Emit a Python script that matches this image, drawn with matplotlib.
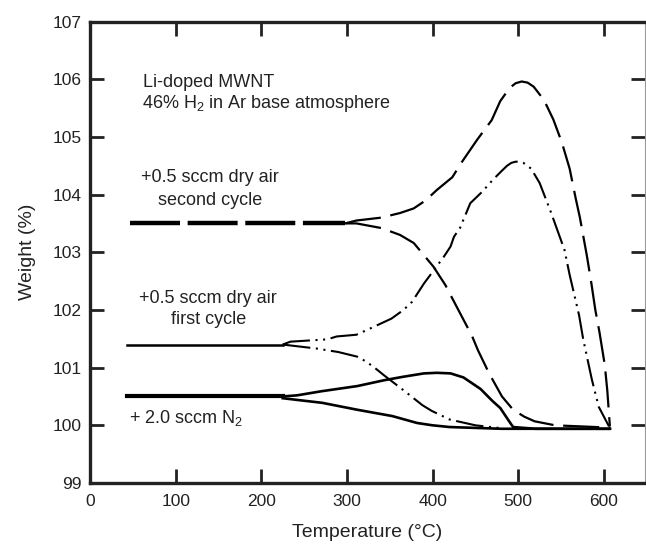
import matplotlib
matplotlib.use("Agg")
import matplotlib.pyplot as plt

plt.rcParams['font.family'] = ['Liberation Sans', 'DejaVu Sans']
plt.rcParams['mathtext.fontset'] = 'custom'
plt.rcParams['mathtext.rm'] = 'Liberation Sans'
plt.rcParams['mathtext.it'] = 'Liberation Sans:italic'
plt.rcParams['lines.scale_dashes'] = False

# ---- data (Temperature in °C, Weight in %) ----
# second cycle (+0.5 sccm dry air)
second_flat_t = [47, 298]
second_flat_w = [103.5, 103.5]
second_up_t = [298, 311, 340, 362, 378, 392, 405, 423, 434, 452, 469, 479, 490, 497, 504, 511,
               518, 530, 541, 551, 560, 567, 572, 580, 585, 590, 595, 601, 604, 607]
second_up_w = [103.5, 103.55, 103.6, 103.68, 103.76, 103.9, 104.08, 104.3, 104.56, 104.95,
               105.29, 105.62, 105.85, 105.93, 105.96, 105.94, 105.87, 105.64, 105.3, 104.9,
               104.45, 103.94, 103.6, 102.95, 102.5, 102.0, 101.6, 101.05, 100.6, 99.98]
second_down_t = [298, 311, 340, 362, 378, 401, 415, 423, 446, 453, 466, 481, 494, 507, 519,
                 543, 607]
second_down_w = [103.5, 103.5, 103.42, 103.3, 103.16, 102.75, 102.43, 102.2, 101.55, 101.3,
                 100.9, 100.5, 100.27, 100.15, 100.07, 100.0, 99.96]

# first cycle (+0.5 sccm dry air)
first_flat_t = [43, 225]
first_flat_w = [101.4, 101.4]
first_up_t = [225, 234, 277, 288, 311, 323, 352, 366, 376, 390, 413, 421, 425, 432, 444,
              458, 470, 480, 487, 492, 497, 502, 506, 515, 525, 538, 554, 560, 571, 576,
              586, 594, 606]
first_up_w = [101.4, 101.45, 101.49, 101.54, 101.57, 101.65, 101.85, 102.0, 102.14, 102.46,
              102.92, 103.1, 103.27, 103.42, 103.85, 104.05, 104.25, 104.4, 104.5, 104.55,
              104.57, 104.57, 104.55, 104.45, 104.2, 103.7, 103.04, 102.61, 101.91, 101.48,
              100.79, 100.32, 99.98]
first_down_t = [225, 265, 290, 312, 323, 333, 343, 365, 388, 399, 420, 450, 480]
first_down_w = [101.4, 101.33, 101.27, 101.19, 101.1, 100.99, 100.87, 100.62, 100.35, 100.25,
                100.1, 100.0, 99.95]

# + 2.0 sccm N2
n2_flat_t = [43, 225]
n2_flat_w = [100.5, 100.5]
n2_up_t = [225, 242, 270, 312, 343, 365, 390, 405, 421, 436, 456, 470, 479, 488, 494, 520, 607]
n2_up_w = [100.5, 100.52, 100.59, 100.68, 100.78, 100.84, 100.9, 100.91, 100.9, 100.83,
           100.63, 100.42, 100.3, 100.1, 99.97, 99.94, 99.94]
n2_down_t = [225, 242, 271, 312, 353, 382, 400, 420, 480, 607]
n2_down_w = [100.47, 100.44, 100.39, 100.27, 100.16, 100.04, 100.0, 99.97, 99.94, 99.94]

x_ticks = [0, 100, 200, 300, 400, 500, 600]
y_ticks = [99, 100, 101, 102, 103, 104, 105, 106, 107]

W, H = 646, 551
fig = plt.figure(figsize=(W / 100, H / 100), dpi=100)
ax = fig.add_axes([90 / W, 68 / H, 555 / W, 461.5 / H])

k = 'black'
ax.plot(second_flat_t, second_flat_w, color=k, lw=3.2, dashes=(36, 5.5), solid_capstyle='butt')
ax.plot(second_up_t, second_up_w, color=k, lw=1.6, dashes=(26, 7))
ax.plot(second_down_t, second_down_w, color=k, lw=1.6, dashes=(26, 7))

ax.plot(first_flat_t, first_flat_w, color=k, lw=1.8)
ax.plot(first_up_t, first_up_w, color=k, lw=1.5, dashes=(20, 4, 1.5, 4, 1.5, 4))
ax.plot(first_down_t, first_down_w, color=k, lw=1.5, dashes=(20, 4, 1.5, 4, 1.5, 4))

ax.plot(n2_flat_t, n2_flat_w, color=k, lw=3.0)
ax.plot(n2_up_t, n2_up_w, color=k, lw=1.9)
ax.plot(n2_down_t, n2_down_w, color=k, lw=1.9)

ax.set_xlim(0, 648)
ax.set_ylim(99, 107)
ax.set_xticks(x_ticks)
ax.set_yticks(y_ticks)
ax.tick_params(direction='in', length=10, width=2.0, labelsize=12.5,
               top=True, right=True, pad=6, colors='#222222')
ax.tick_params(axis='x', pad=8)
for s in ['left', 'bottom', 'top']:
    ax.spines[s].set_linewidth(2.4)
    ax.spines[s].set_color('#222222')
ax.spines['right'].set_linewidth(0.8)
ax.spines['right'].set_color('#999999')

ax.set_xlabel('Temperature (°C)', fontsize=14, labelpad=11, color='#222222')
ax.set_ylabel('Weight (%)', fontsize=14, labelpad=12, color='#222222')

fs = 13
tc = '#222222'
ax.text(62, 105.95, 'Li-doped MWNT', fontsize=fs, va='center', ha='left', color=tc)
ax.text(61, 105.58, r'46% H$_\mathregular{2}$ in Ar base atmosphere', fontsize=fs,
        va='center', ha='left', color=tc)
ax.text(140, 104.3, '+0.5 sccm dry air', fontsize=fs, va='center', ha='center', color=tc)
ax.text(140, 103.9, 'second cycle', fontsize=fs, va='center', ha='center', color=tc)
ax.text(138, 102.2, '+0.5 sccm dry air', fontsize=fs, va='center', ha='center', color=tc)
ax.text(138, 101.83, 'first cycle', fontsize=fs, va='center', ha='center', color=tc)
ax.text(45, 100.12, r'+ 2.0 sccm N$_\mathregular{2}$', fontsize=fs, va='center', ha='left',
        color=tc)

fig.savefig('out.png', dpi=100)
